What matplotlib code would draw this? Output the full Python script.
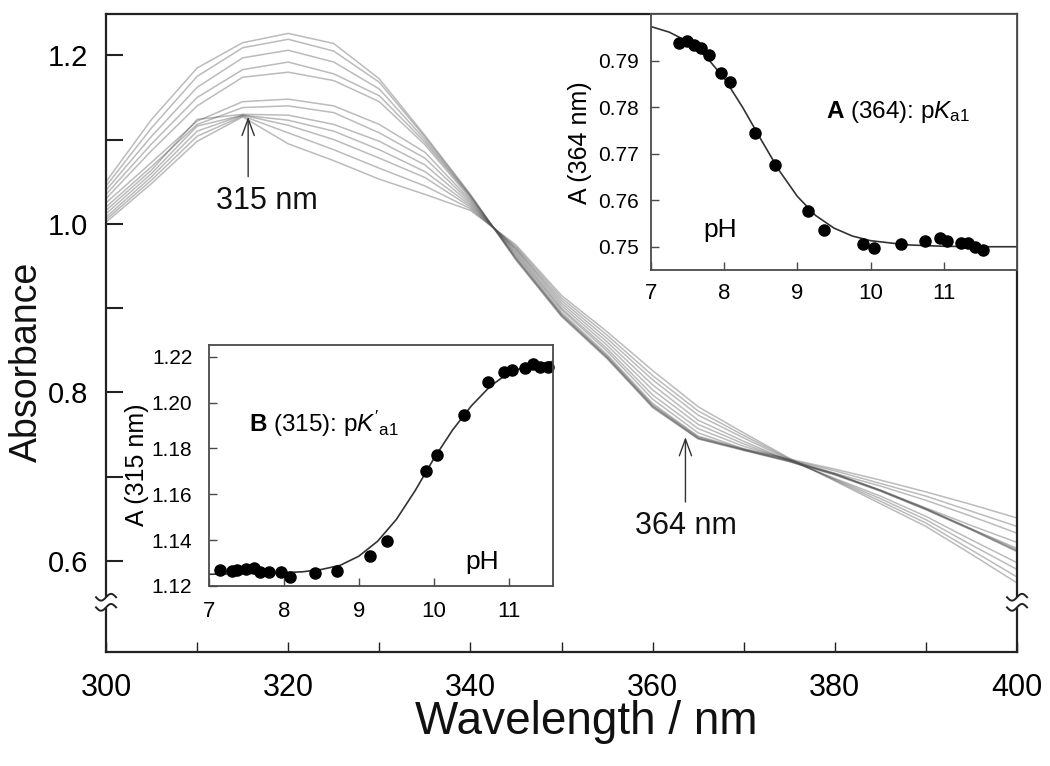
import numpy as np
import matplotlib
matplotlib.use("Agg")
import matplotlib.pyplot as plt
from matplotlib.ticker import MultipleLocator, FormatStrFormatter
import matplotlib.transforms as mtransforms

plt.rcParams['font.family'] = ['Liberation Sans', 'DejaVu Sans']
plt.rcParams['mathtext.fontset'] = 'custom'
plt.rcParams['mathtext.rm'] = 'Liberation Sans'
plt.rcParams['mathtext.it'] = 'Liberation Sans:italic'
plt.rcParams['mathtext.bf'] = 'Liberation Sans:bold'

# - main panel: absorbance spectra (one list per pH), sampled every 5 nm
wavelength = [300, 305, 310, 315, 320, 325, 330, 335, 340, 345, 350,
              355, 360, 365, 370, 375, 380, 385, 390, 395, 400]

spec_ph74  = [1.002, 1.048, 1.098, 1.127, 1.095, 1.075, 1.053, 1.035, 1.016, 0.975, 0.915,
              0.872, 0.826, 0.783, 0.752, 0.722, 0.695, 0.668, 0.641, 0.608, 0.574]
spec_ph78  = [1.005, 1.052, 1.104, 1.128, 1.108, 1.088, 1.066, 1.045, 1.018, 0.973, 0.912,
              0.868, 0.820, 0.778, 0.749, 0.721, 0.696, 0.671, 0.645, 0.613, 0.581]
spec_ph81  = [1.008, 1.056, 1.110, 1.129, 1.117, 1.100, 1.078, 1.055, 1.020, 0.971, 0.909,
              0.864, 0.815, 0.773, 0.746, 0.720, 0.697, 0.674, 0.649, 0.619, 0.590]
spec_ph84  = [1.012, 1.060, 1.116, 1.129, 1.123, 1.110, 1.088, 1.062, 1.022, 0.970, 0.906,
              0.860, 0.809, 0.767, 0.742, 0.719, 0.698, 0.677, 0.653, 0.625, 0.598]
spec_ph87  = [1.016, 1.064, 1.124, 1.130, 1.129, 1.118, 1.098, 1.070, 1.024, 0.968, 0.903,
              0.856, 0.803, 0.762, 0.739, 0.719, 0.704, 0.689, 0.672, 0.653, 0.633]
spec_ph92  = [1.020, 1.068, 1.118, 1.138, 1.140, 1.132, 1.108, 1.078, 1.026, 0.966, 0.900,
              0.852, 0.797, 0.757, 0.736, 0.720, 0.707, 0.692, 0.677, 0.659, 0.641]
spec_ph94  = [1.025, 1.073, 1.122, 1.145, 1.148, 1.140, 1.118, 1.085, 1.028, 0.964, 0.898,
              0.849, 0.792, 0.752, 0.733, 0.721, 0.709, 0.696, 0.682, 0.667, 0.651]
spec_ph99  = [1.030, 1.087, 1.140, 1.174, 1.180, 1.170, 1.145, 1.094, 1.030, 0.962, 0.895,
              0.845, 0.787, 0.748, 0.733, 0.720, 0.704, 0.684, 0.663, 0.642, 0.622]
spec_ph100 = [1.035, 1.095, 1.150, 1.183, 1.192, 1.178, 1.152, 1.097, 1.032, 0.960, 0.893,
              0.843, 0.785, 0.747, 0.732, 0.719, 0.703, 0.684, 0.662, 0.638, 0.615]
spec_ph104 = [1.040, 1.104, 1.162, 1.197, 1.206, 1.192, 1.160, 1.100, 1.033, 0.959, 0.892,
              0.842, 0.784, 0.746, 0.732, 0.719, 0.703, 0.684, 0.662, 0.638, 0.613]
spec_ph107 = [1.045, 1.114, 1.175, 1.209, 1.219, 1.205, 1.168, 1.103, 1.034, 0.958, 0.891,
              0.841, 0.783, 0.745, 0.732, 0.718, 0.703, 0.683, 0.661, 0.637, 0.612]
spec_ph112 = [1.050, 1.124, 1.185, 1.215, 1.226, 1.214, 1.172, 1.105, 1.035, 0.957, 0.890,
              0.840, 0.782, 0.745, 0.731, 0.718, 0.702, 0.683, 0.661, 0.637, 0.611]

# - inset A: absorbance at 364 nm vs pH
ph_a  = [7.38, 7.49, 7.59, 7.68, 7.79, 7.95, 8.08, 8.42, 8.69, 9.15, 9.37,
         9.89, 10.04, 10.42, 10.74, 10.95, 11.05, 11.24, 11.33, 11.43, 11.53]
abs_a = [0.7937, 0.7942, 0.7934, 0.7926, 0.7912, 0.7874, 0.7854, 0.7744, 0.7675, 0.7576, 0.7536,
         0.7506, 0.7497, 0.7506, 0.7513, 0.7519, 0.7513, 0.7507, 0.7507, 0.7499, 0.7494]
fit_ph_a  = [7.0, 7.25, 7.5, 7.75, 8.0, 8.25, 8.5, 8.75, 9.0, 9.25, 9.5,
             9.75, 10.0, 10.5, 11.0, 11.5, 12.0]
fit_abs_a = [0.7973, 0.7961, 0.7941, 0.7909, 0.7862, 0.7800, 0.7731, 0.7664, 0.7608, 0.7567, 0.7540,
             0.7523, 0.7513, 0.7504, 0.7501, 0.7500, 0.7500]

# - inset B: absorbance at 315 nm vs pH
ph_b  = [7.15, 7.31, 7.37, 7.49, 7.60, 7.68, 7.80, 7.96, 8.08, 8.42, 8.71, 9.15,
         9.37, 9.89, 10.04, 10.41, 10.73, 10.94, 11.05, 11.22, 11.32, 11.42, 11.53]
abs_b = [1.1270, 1.1264, 1.1270, 1.1274, 1.1280, 1.1260, 1.1261, 1.1260, 1.1241, 1.1255, 1.1265, 1.1332,
         1.1396, 1.1701, 1.1771, 1.1946, 1.2088, 1.2132, 1.2142, 1.2152, 1.2167, 1.2156, 1.2156]
fit_ph_b  = [7.0, 7.5, 8.0, 8.25, 8.5, 8.75, 9.0, 9.25, 9.5, 9.75, 10.0,
             10.25, 10.5, 10.75, 11.0, 11.25, 11.6]
fit_abs_b = [1.1251, 1.1254, 1.1258, 1.1262, 1.1272, 1.1290, 1.1330, 1.1395, 1.1490, 1.1615, 1.1755,
             1.1880, 1.1985, 1.2070, 1.2130, 1.2160, 1.2180]

DARK = '#222222'


def style_inset(ax, xpad, ypad):
    for sp in ax.spines.values():
        sp.set_color('#4a4a4a')
        sp.set_linewidth(1.3)
    ax.tick_params(direction='in', length=6, width=1, color='#4a4a4a')
    ax.tick_params(axis='x', labelsize=16, pad=xpad)
    ax.tick_params(axis='y', labelsize=15, pad=ypad)


def axis_break(ax, x0, y0):
    # - draw the little "~" break marks on a vertical spine
    trans = mtransforms.blended_transform_factory(ax.transAxes, ax.transData)
    ax.plot([x0, x0], [y0 - 0.006, y0 + 0.006], transform=trans, color='white',
            lw=5, clip_on=False, zorder=6, solid_capstyle='butt')
    t = np.linspace(-1, 1, 40)
    for dy in (0.006, -0.006):
        ax.plot(x0 + 0.011 * t, y0 + dy + 0.004 * np.sin(np.pi * t), transform=trans,
                color=DARK, lw=1.4, clip_on=False, zorder=7)


def main():
    fig = plt.figure(figsize=(10.5, 7.66), dpi=100)

    ax = fig.add_axes([0.1010, 0.1488, 0.8676, 0.8329])
    spectra = [spec_ph74, spec_ph78, spec_ph81, spec_ph84, spec_ph87, spec_ph92,
               spec_ph94, spec_ph99, spec_ph100, spec_ph104, spec_ph107, spec_ph112]
    for spec in spectra:
        ax.plot(wavelength, spec, color='0.3', alpha=0.38, lw=1.1, solid_joinstyle='round')

    ax.set_xlim(300, 400)
    ax.set_ylim(0.492, 1.249)
    ax.xaxis.set_major_locator(MultipleLocator(20))
    ax.xaxis.set_minor_locator(MultipleLocator(10))
    ax.yaxis.set_major_formatter(FormatStrFormatter('%.1f'))
    ax.set_yticks([0.6, 0.8, 1.0, 1.2])
    ax.set_yticks([0.7, 0.9, 1.1], minor=True)
    ax.tick_params(direction='in', which='both', color=DARK)
    ax.tick_params(axis='x', which='both', length=7, width=1, labelsize=22, pad=15)
    ax.tick_params(axis='y', which='both', length=12, width=1.5, labelsize=21, pad=13)
    for sp in ax.spines.values():
        sp.set_color(DARK)
        sp.set_linewidth(1.6)

    axis_break(ax, 0.0, 0.551)
    axis_break(ax, 1.0, 0.551)

    arrow = dict(arrowstyle='->,head_length=0.6,head_width=0.22', lw=1.0, color='#333333',
                 shrinkA=0, shrinkB=0, mutation_scale=20)
    ax.annotate('', xy=(315.6, 1.127), xytext=(315.6, 1.056), arrowprops=arrow)
    ax.annotate('', xy=(363.6, 0.747), xytext=(363.6, 0.670), arrowprops=arrow)
    ax.text(317.6, 1.027, '315 nm', fontsize=22, ha='center', va='center', color='#111111')
    ax.text(363.7, 0.642, '364 nm', fontsize=22, ha='center', va='center', color='#111111')

    fig.text(586 / 1050, 1 - 734 / 766, 'Wavelength / nm', fontsize=33,
             ha='center', va='baseline', color='#111111')
    fig.text(27 / 1050, 1 - 362 / 766, 'Absorbance', fontsize=27, rotation=90,
             ha='center', va='center', color='#111111')

    # - inset A (364 nm)
    axa = fig.add_axes([0.6200, 0.6475, 0.3486, 0.3342])
    axa.plot(fit_ph_a, fit_abs_a, color='#333333', lw=1.2)
    axa.plot(ph_a, abs_a, 'o', color='black', ms=8, clip_on=False)
    axa.set_xlim(7, 12)
    axa.set_ylim(0.745, 0.80)
    axa.set_xticks([7, 8, 9, 10, 11])
    axa.set_yticks([0.75, 0.76, 0.77, 0.78, 0.79])
    axa.yaxis.set_major_formatter(FormatStrFormatter('%.2f'))
    style_inset(axa, 9, 9)
    axa.text(10.37, 0.779, r'$\mathbf{A}$ (364): p$K_{\mathrm{a1}}$', fontsize=17.5,
             ha='center', va='center')
    axa.text(7.95, 0.7535, 'pH', fontsize=19, ha='center', va='center')
    fig.text(580 / 1050, 1 - 143 / 766, 'A (364 nm)', fontsize=18, rotation=90,
             ha='center', va='center')

    # - inset B (315 nm)
    axb = fig.add_axes([0.1990, 0.2350, 0.3276, 0.3146])
    axb.plot(fit_ph_b, fit_abs_b, color='#333333', lw=1.2)
    axb.plot(ph_b, abs_b, 'o', color='black', ms=8, clip_on=False)
    axb.set_xlim(7, 11.59)
    axb.set_ylim(1.12, 1.2251)
    axb.set_xticks([7, 8, 9, 10, 11])
    axb.set_yticks([1.12, 1.14, 1.16, 1.18, 1.20, 1.22])
    axb.yaxis.set_major_formatter(FormatStrFormatter('%.2f'))
    style_inset(axb, 11, 12)
    axb.text(8.53, 1.1909, r"$\mathbf{B}$ (315): p$K'_{\mathrm{a1}}$", fontsize=17.5,
             ha='center', va='center')
    axb.text(10.64, 1.1306, 'pH', fontsize=19, ha='center', va='center')
    fig.text(137 / 1050, 1 - 465 / 766, 'A (315 nm)', fontsize=18, rotation=90,
             ha='center', va='center')

    fig.savefig('out.png', dpi=100, facecolor='white')


if __name__ == "__main__":
    main()
